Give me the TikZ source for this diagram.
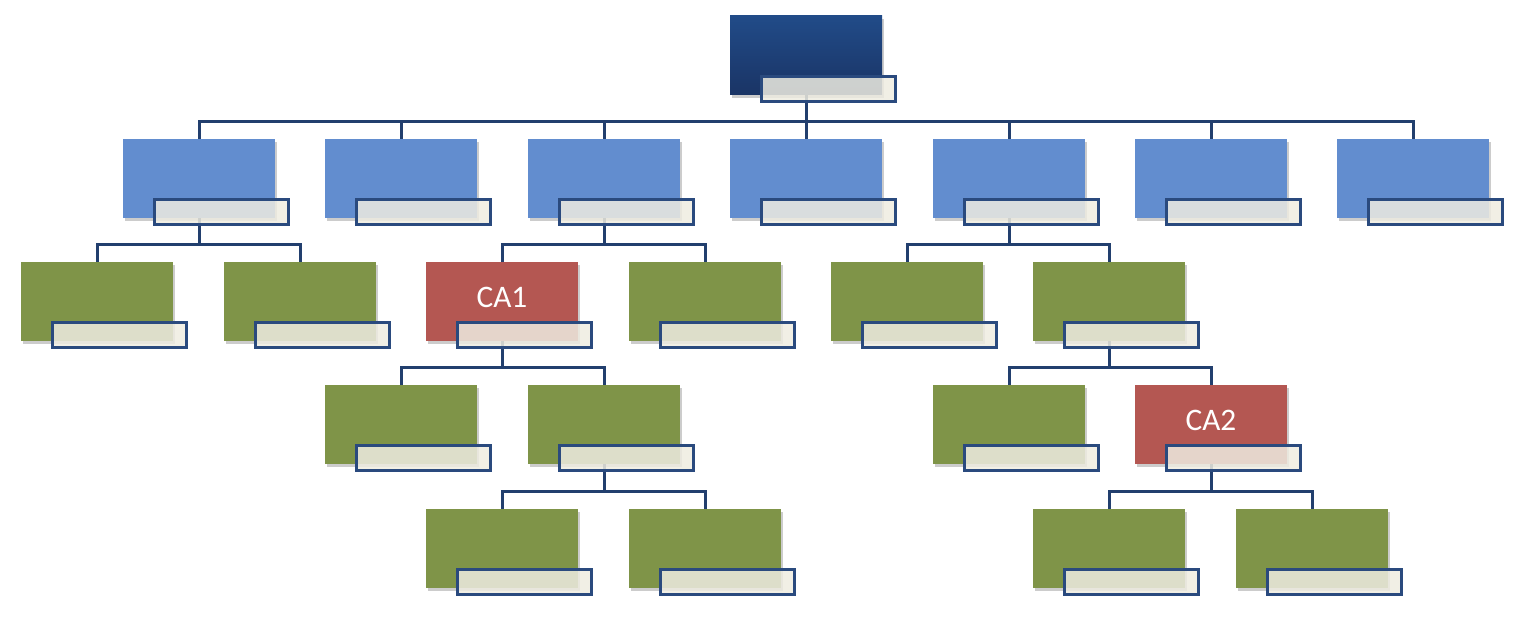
\documentclass[tikz,border=0pt]{standalone}
\usepackage{fontspec}
\setsansfont{Carlito}
\usepackage{tikz}
\usetikzlibrary{positioning,shadows,backgrounds}
\definecolor{topA}{HTML}{214B88}
\definecolor{topB}{HTML}{1A3465}
\definecolor{unitblue}{HTML}{628DCF}
\definecolor{unitgreen}{HTML}{7F9448}
\definecolor{unitred}{HTML}{B45752}
\definecolor{capfill}{HTML}{EEECE1}
\definecolor{capline}{HTML}{2A4A7E}
\definecolor{connline}{HTML}{223F6E}
\tikzstyle{unit} = [rectangle, draw=none, minimum width=114pt, minimum height=59.25pt,
    inner sep=0pt, text depth=6pt, text=white, font=\sffamily\fontsize{23.5}{25}\selectfont,
    drop shadow={shadow xshift=1.2pt, shadow yshift=-2.2pt, opacity=0.2, fill=black}]
\tikzstyle{head} = [unit, top color=topA, bottom color=topB]
\tikzstyle{dept} = [unit, fill=unitblue]
\tikzstyle{team} = [unit, fill=unitgreen]
\tikzstyle{ca} = [unit, fill=unitred]
\tikzstyle{caption} = [rectangle, draw=capline, line width=2.25pt, fill=capfill,
    fill opacity=0.85, minimum width=100.5pt, minimum height=18.75pt, inner sep=0pt]
\tikzstyle{conn} = [draw=connline, line width=2.25pt]

\begin{document}
\begin{tikzpicture}[x=0.75pt, y=-0.75pt]
  \useasboundingbox (0,0) rectangle (1536,624);
  % Place boxes
  \node [head] (top) at (806,55.5) {};
  \node [dept] (d1) at (199,178.5) {};
  \node [dept] (d2) at (401,178.5) {};
  \node [dept] (d3) at (604,178.5) {};
  \node [dept] (d4) at (806,178.5) {};
  \node [dept] (d5) at (1009,178.5) {};
  \node [dept] (d6) at (1211,178.5) {};
  \node [dept] (d7) at (1413,178.5) {};
  \node [team] (d1a) at (97,301.5) {};
  \node [team] (d1b) at (300,301.5) {};
  \node [ca] (ca1) at (502,301.5) {CA1};
  \node [team] (d3b) at (705,301.5) {};
  \node [team] (d5a) at (907,301.5) {};
  \node [team] (d5b) at (1109,301.5) {};
  \node [team] (ca1a) at (401,424.5) {};
  \node [team] (ca1b) at (604,424.5) {};
  \node [team] (d5ba) at (1009,424.5) {};
  \node [ca] (ca2) at (1211,424.5) {CA2};
  \node [team] (ca1ba) at (502,548.5) {};
  \node [team] (ca1bb) at (705,548.5) {};
  \node [team] (ca2a) at (1109,548.5) {};
  \node [team] (ca2b) at (1312,548.5) {};
  % Place captions
  \foreach \n in {top,d1,d2,d3,d4,d5,d6,d7,d1a,d1b,ca1,d3b,d5a,d5b,ca1a,ca1b,d5ba,ca2,ca1ba,ca1bb,ca2a,ca2b}
    \node [caption, below right=-15pt and 22.5pt of \n.south west] (\n c) {};
  % Draw edges
  \begin{scope}[on background layer]
    \path (top |- d1.north) ++(0,-17) coordinate (jtop);
    \path (d1 |- d1a.north) ++(0,-17) coordinate (jd1);
    \path (d3 |- ca1.north) ++(0,-17) coordinate (jd3);
    \path (d5 |- d5a.north) ++(0,-17) coordinate (jd5);
    \path (ca1 |- ca1a.north) ++(0,-17) coordinate (jca1);
    \path (ca1b |- ca1ba.north) ++(0,-17) coordinate (jca1b);
    \path (d5b |- d5ba.north) ++(0,-17) coordinate (jd5b);
    \path (ca2 |- ca2a.north) ++(0,-17) coordinate (jca2);
    \draw [conn] (top) -- (jtop);
    \foreach \c in {d1,d2,d3,d4,d5,d6,d7} \draw [conn] (\c.north) |- (jtop);
    \draw [conn] (d1) -- (jd1);
    \foreach \c in {d1a,d1b} \draw [conn] (\c.north) |- (jd1);
    \draw [conn] (d3) -- (jd3);
    \foreach \c in {ca1,d3b} \draw [conn] (\c.north) |- (jd3);
    \draw [conn] (d5) -- (jd5);
    \foreach \c in {d5a,d5b} \draw [conn] (\c.north) |- (jd5);
    \draw [conn] (ca1) -- (jca1);
    \foreach \c in {ca1a,ca1b} \draw [conn] (\c.north) |- (jca1);
    \draw [conn] (ca1b) -- (jca1b);
    \foreach \c in {ca1ba,ca1bb} \draw [conn] (\c.north) |- (jca1b);
    \draw [conn] (d5b) -- (jd5b);
    \foreach \c in {d5ba,ca2} \draw [conn] (\c.north) |- (jd5b);
    \draw [conn] (ca2) -- (jca2);
    \foreach \c in {ca2a,ca2b} \draw [conn] (\c.north) |- (jca2);
  \end{scope}
\end{tikzpicture}
\end{document}
